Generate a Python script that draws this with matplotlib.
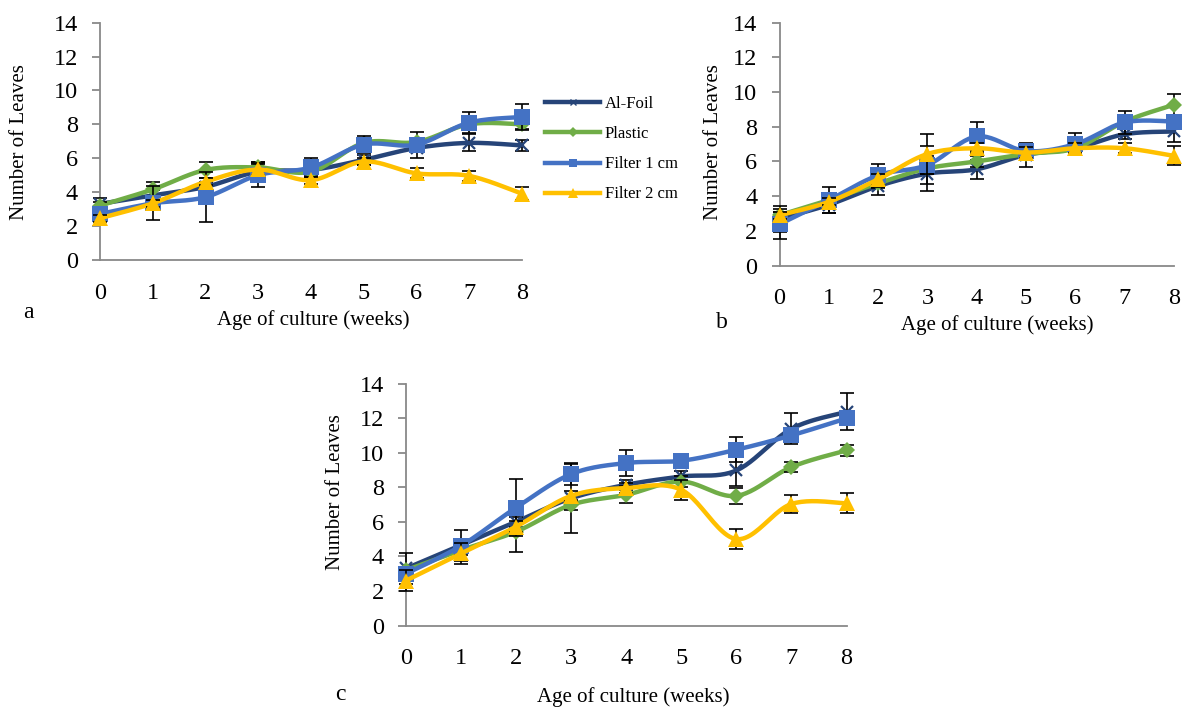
import numpy as np
import matplotlib
matplotlib.use("Agg")
import matplotlib.pyplot as plt

plt.rcParams['font.family'] = ['Liberation Serif', 'DejaVu Serif']

weeks = [0, 1, 2, 3, 4, 5, 6, 7, 8]
series_names = ["Al-Foil", "Plastic", "Filter 1 cm", "Filter 2 cm"]

# Panel a
a_alfoil = [3.3, 3.8, 4.3, 5.2, 5.3, 5.9, 6.6, 6.9, 6.75]
a_plastic = [3.2, 4.15, 5.3, 5.45, 5.2, 6.9, 6.95, 8.0, 8.0]
a_filter1 = [2.7, 3.33, 3.7, 5.0, 5.45, 6.8, 6.8, 8.1, 8.43]
a_filter2 = [2.45, 3.33, 4.6, 5.33, 4.7, 5.8, 5.1, 4.95, 3.9]
a_err_alfoil = [0.35, 0.3, 0.3, 0.6, 0.3, 0.3, 0.6, 0.5, 0.35]
a_err_plastic = [0.2, 0.45, 0.5, 0.3, 0.3, 0.3, 0.6, 0.3, 0.3]
a_err_filter1 = [0.2, 1.0, 1.5, 0.7, 0.55, 0.5, 0.3, 0.6, 0.75]
a_err_filter2 = [0.2, 0.2, 0.2, 0.3, 0.2, 0.2, 0.3, 0.3, 0.4]

# Panel b
b_alfoil = [2.7, 3.5, 4.58, 5.3, 5.55, 6.38, 6.76, 7.57, 7.73]
b_plastic = [2.9, 3.77, 4.74, 5.6, 6.0, 6.43, 6.76, 8.3, 9.27]
b_filter1 = [2.38, 3.77, 5.2, 5.8, 7.44, 6.6, 7.0, 8.25, 8.3]
b_filter2 = [2.9, 3.67, 4.97, 6.43, 6.76, 6.51, 6.76, 6.76, 6.32]
b_err_alfoil = [0.75, 0.47, 0.52, 1.0, 0.55, 0.7, 0.3, 0.3, 0.63]
b_err_plastic = [0.2, 0.77, 0.3, 0.3, 0.3, 0.3, 0.3, 0.3, 0.63]
b_err_filter1 = [0.85, 0.3, 0.65, 1.1, 0.83, 0.3, 0.65, 0.64, 0.3]
b_err_filter2 = [0.2, 0.2, 0.3, 1.15, 0.3, 0.3, 0.3, 0.3, 0.55]

# Panel c
c_alfoil = [3.3, 4.65, 6.0, 7.36, 8.14, 8.62, 8.97, 11.38, 12.36]
c_plastic = [3.2, 4.36, 5.43, 6.98, 7.56, 8.33, 7.5, 9.17, 10.13]
c_filter1 = [3.0, 4.61, 6.82, 8.76, 9.4, 9.53, 10.17, 11.0, 11.98]
c_filter2 = [2.6, 4.17, 5.72, 7.5, 7.95, 7.85, 5.0, 7.03, 7.07]
c_err_alfoil = [0.9, 0.9, 0.3, 2.0, 0.3, 0.3, 0.9, 0.9, 1.07]
c_err_plastic = [0.2, 0.3, 1.15, 0.3, 0.5, 0.3, 0.47, 0.3, 0.3]
c_err_filter1 = [0.3, 0.3, 1.65, 0.64, 0.73, 0.3, 0.73, 0.3, 0.3]
c_err_filter2 = [0.6, 0.6, 0.3, 0.3, 0.3, 0.58, 0.6, 0.53, 0.57]

yticks = [0, 2, 4, 6, 8, 10, 12, 14]
panel_letters = ["a", "b", "c"]
xlabel_text = "Age of culture (weeks)"
ylabel_text = "Number of Leaves"

colors = ["#264478", "#70AD47", "#4472C4", "#FFC000"]
markers = ["x", "D", "s", "^"]
msizes = [9, 8.5, 11, 12]

W, H = 1184, 708
fig = plt.figure(figsize=(W / 100, H / 100), dpi=100)


def px_axes(x0, x1, ytop, ybot):
    return fig.add_axes([x0 / W, 1 - ybot / H, (x1 - x0) / W, (ybot - ytop) / H])


def smooth(x, y, n=24):
    x = np.asarray(x, float)
    y = np.asarray(y, float)
    P = np.column_stack([x, y])
    P = np.vstack([P[0], P, P[-1]])
    out = []
    for i in range(1, len(P) - 2):
        p0, p1, p2, p3 = P[i - 1], P[i], P[i + 1], P[i + 2]
        t = np.linspace(0, 1, n, endpoint=False)[:, None]
        c1 = p1 + (p2 - p0) / 6.0
        c2 = p2 - (p3 - p1) / 6.0
        seg = ((1 - t) ** 3) * p1 + 3 * ((1 - t) ** 2) * t * c1 + 3 * (1 - t) * t ** 2 * c2 + t ** 3 * p2
        out.append(seg)
    out.append(P[-2][None, :])
    out = np.vstack(out)
    return out[:, 0], out[:, 1]


def draw_panel(ax, data, errs):
    handles = []
    for i, (vals, err) in enumerate(zip(data, errs)):
        sx, sy = smooth(weeks, vals)
        ax.plot(sx, sy, color=colors[i], lw=3.2, zorder=3 + i, clip_on=False,
                solid_capstyle='round')
        ax.errorbar(weeks, vals, yerr=err, fmt='none', ecolor='black', elinewidth=1.2,
                    capsize=5, capthick=1.2, zorder=3 + i, clip_on=False)
        mew = 1.6 if markers[i] == 'x' else 0
        ax.plot(weeks, vals, linestyle='none', marker=markers[i], ms=msizes[i],
                color=colors[i], mec=colors[i], mew=mew, zorder=3.5 + i, clip_on=False)
        h, = ax.plot([], [], color=colors[i], lw=3.2, marker=markers[i],
                     ms=msizes[i] * 0.55, mew=1.0 if markers[i] == 'x' else 0)
        handles.append(h)
    ax.set_xlim(0, 8)
    ax.set_ylim(0, 14)
    ax.set_xticks(weeks)
    ax.set_yticks(yticks)
    for s in ['top', 'right']:
        ax.spines[s].set_visible(False)
    for s in ['left', 'bottom']:
        ax.spines[s].set_color('#898989')
        ax.spines[s].set_linewidth(1.3)
    ax.tick_params(axis='y', length=6, width=1.3, color='#898989', pad=10, labelsize=17.5)
    ax.tick_params(axis='x', length=0, pad=16.5, labelsize=17.5)
    return handles


axa = px_axes(100, 522, 22.7, 259.7)
ha = draw_panel(axa, [a_alfoil, a_plastic, a_filter1, a_filter2],
                [a_err_alfoil, a_err_plastic, a_err_filter1, a_err_filter2])
axb = px_axes(779.5, 1174, 22.7, 265.5)
draw_panel(axb, [b_alfoil, b_plastic, b_filter1, b_filter2],
           [b_err_alfoil, b_err_plastic, b_err_filter1, b_err_filter2])
axc = px_axes(406, 846.5, 383.5, 625.5)
draw_panel(axc, [c_alfoil, c_plastic, c_filter1, c_filter2],
           [c_err_alfoil, c_err_plastic, c_err_filter1, c_err_filter2])

leg = fig.legend(ha, series_names, loc='upper left',
                 bbox_to_anchor=(545 / W, 1 - 96 / H), frameon=False,
                 fontsize=12, handlelength=3.3, handletextpad=0.3,
                 labelspacing=0.85, borderaxespad=0, borderpad=0)


def ftext(x, y, s, **kw):
    fig.text(x / W, 1 - y / H, s, ha='center', va='center', **kw)


ftext(20, 142.5, ylabel_text, rotation=90, fontsize=15)
ftext(713, 142.5, ylabel_text, rotation=90, fontsize=15)
ftext(336, 492, ylabel_text, rotation=90, fontsize=15)
ftext(313, 320, xlabel_text, fontsize=15)
ftext(997, 325, xlabel_text, fontsize=15)
ftext(633, 697, xlabel_text, fontsize=15)
ftext(28, 313, panel_letters[0], fontsize=17)
ftext(722, 322, panel_letters[1], fontsize=17)
ftext(340, 695, panel_letters[2], fontsize=17)

fig.savefig("out.png", dpi=100)
